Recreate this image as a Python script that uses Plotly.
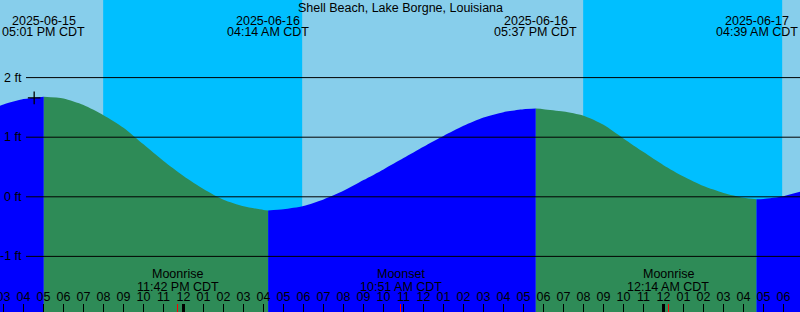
import pandas as pd
import plotly.graph_objects as go

# ---------------- data ----------------
station = "Shell Beach, Lake Borgne, Louisiana"

hour_times = pd.date_range("2025-06-15 14:00", "2025-06-17 07:00", freq="h")
hour_levels = [
    1.42, 1.55, 1.64, 1.68, 1.65, 1.54, 1.37, 1.16, 0.88, 0.60,          # 06-15 14..23
    0.35, 0.13, -0.05, -0.16, -0.22, -0.21, -0.155, -0.045, 0.10, 0.28,  # 06-16 00..09
    0.46, 0.65, 0.84, 1.02, 1.19, 1.33, 1.42, 1.47, 1.47, 1.43,          # 06-16 10..19
    1.36, 1.21, 0.98, 0.75,                                              # 06-16 20..23
    0.53, 0.34, 0.18, 0.065, -0.015, -0.035, 0.01, 0.10,                 # 06-17 00..07
]

ext_times = pd.to_datetime(["2025-06-15 17:01", "2025-06-16 04:14",
                            "2025-06-16 17:37", "2025-06-17 04:39"])
ext_levels = [1.68, -0.23, 1.48, -0.04]
ext_kind = ["high", "low", "high", "low"]
ext_date_labels = ["2025-06-15", "2025-06-16", "2025-06-16", "2025-06-17"]
ext_time_labels = ["05:01 PM CDT", "04:14 AM CDT", "05:37 PM CDT", "04:39 AM CDT"]

sunset_times = pd.to_datetime(["2025-06-15 19:59", "2025-06-16 19:59"])
sunrise_times = pd.to_datetime(["2025-06-16 05:56", "2025-06-17 05:56"])

moon_times = pd.to_datetime(["2025-06-15 23:42", "2025-06-16 10:51", "2025-06-17 00:14"])
moon_events = ["Moonrise", "Moonset", "Moonrise"]
moon_time_labels = ["11:42 PM CDT", "10:51 AM CDT", "12:14 AM CDT"]

midnights = pd.to_datetime(["2025-06-16 00:00", "2025-06-17 00:00"])

level_ticks = [-1, 0, 1, 2]
level_tick_labels = ["-1 ft", "0 ft", "1 ft", "2 ft"]

now_time = pd.Timestamp("2025-06-15 16:32")
now_level = 1.66

# ---------------- styling / axes ----------------
W, H = 800, 312
X_START = pd.Timestamp("2025-06-15 14:49:30")
X_END = pd.Timestamp("2025-06-17 06:49:30")
Y_MIN, Y_MAX = -1.933, 3.302
DAY = "#87CEEB"
NIGHT = "#00BFFF"
FLOOD = "#0000FF"
EBB = "#2E8B57"
FONT = "Liberation Sans"
FS = 12.5

def py(px):
    return 1 - px / H

fig = go.Figure()

# combine hourly samples with extremes (drop samples nearly coincident with an extreme)
hs = pd.Series(hour_levels, index=hour_times)
near = pd.Series(False, index=hour_times)
for t in ext_times:
    near |= (abs(hs.index - t) < pd.Timedelta(minutes=10))
ser = pd.concat([hs[~near.values], pd.Series(ext_levels, index=ext_times)]).sort_index()

bounds = [ser.index[0]] + list(ext_times) + [ser.index[-1]]
for i in range(len(bounds) - 1):
    a, b = bounds[i], bounds[i + 1]
    seg = ser[(ser.index >= a) & (ser.index <= b)]
    if i < len(ext_kind):
        rising = ext_kind[i] == "high"
    else:
        rising = ext_kind[-1] == "low"
    color = FLOOD if rising else EBB
    fig.add_trace(go.Scatter(x=[a, b], y=[Y_MIN - 1, Y_MIN - 1], mode="lines",
                             line=dict(width=0, color=color),
                             hoverinfo="skip", showlegend=False))
    fig.add_trace(go.Scatter(x=list(seg.index), y=list(seg.values), mode="lines",
                             fill="tonexty", fillcolor=color,
                             line=dict(width=0, color=color, shape="spline", smoothing=0.7),
                             hoverinfo="skip", showlegend=False))

# "now" marker
fig.add_trace(go.Scatter(x=[now_time], y=[now_level], mode="markers",
                         marker=dict(symbol="cross-thin", size=9,
                                     line=dict(width=1.3, color="black")),
                         showlegend=False, hoverinfo="skip"))

# dummy traces for overlay axes (midnight and moon ticks)
fig.add_trace(go.Scatter(x=list(midnights), y=[None] * len(midnights), xaxis="x2",
                         mode="markers", showlegend=False, hoverinfo="skip"))
fig.add_trace(go.Scatter(x=list(moon_times), y=[None] * len(moon_times), xaxis="x3",
                         mode="markers", showlegend=False, hoverinfo="skip"))

shapes = []
for s, r in zip(sunset_times, sunrise_times):
    shapes.append(dict(type="rect", xref="x", yref="paper", x0=s, x1=r, y0=0, y1=1,
                       fillcolor=NIGHT, line=dict(width=0), layer="below"))
for v in level_ticks:
    shapes.append(dict(type="line", xref="paper", yref="y", x0=26 / W, x1=1,
                       y0=v, y1=v, line=dict(color="black", width=1), layer="above"))

ann = []
def txt(text, x, xref, y, yref, xanchor="center"):
    ann.append(dict(text=text, x=x, xref=xref, y=y, yref=yref, showarrow=False,
                    xanchor=xanchor, yanchor="middle",
                    font=dict(family=FONT, size=FS, color="black")))

txt(station, 0.5, "paper", py(7.5), "paper")
for t, d, tl in zip(ext_times, ext_date_labels, ext_time_labels):
    txt(d, t, "x", py(20.6), "paper")
    txt(tl, t, "x", py(32.3), "paper")
for t, e, tl in zip(moon_times, moon_events, moon_time_labels):
    txt(e, t, "x", py(274.4), "paper")
    txt(tl, t, "x", py(287.2), "paper")
for v, lab in zip(level_ticks, level_tick_labels):
    txt(lab, 24 / W, "paper", v, "y", xanchor="right")

common_x = dict(range=[X_START, X_END], showgrid=False, zeroline=False,
                showline=False, automargin=False)

fig.update_layout(
    width=W, height=H,
    margin=dict(l=0, r=0, t=0, b=0, pad=0, autoexpand=False),
    paper_bgcolor=DAY, plot_bgcolor=DAY,
    showlegend=False,
    shapes=shapes, annotations=ann,
    xaxis=dict(**common_x, type="date", tickmode="linear",
               tick0="2025-06-15 00:00", dtick=3600000, tickformat="%I",
               ticks="inside", ticklen=8, tickwidth=1, tickcolor="black",
               ticklabelposition="inside", ticklabeloverflow="allow",
               tickfont=dict(family=FONT, size=FS, color="black")),
    xaxis2=dict(**common_x, type="date", overlaying="x", anchor="y", side="bottom",
                tickmode="array", tickvals=list(midnights), ticks="inside",
                ticklen=8, tickwidth=3, tickcolor="black", showticklabels=False),
    xaxis3=dict(**common_x, type="date", overlaying="x", anchor="y", side="bottom",
                tickmode="array", tickvals=list(moon_times), ticks="inside",
                ticklen=8, tickwidth=1, tickcolor="red", showticklabels=False),
    yaxis=dict(range=[Y_MIN, Y_MAX], showgrid=False, zeroline=False,
               showticklabels=False, ticks="", showline=False, automargin=False),
)

fig.write_html("out.html")
